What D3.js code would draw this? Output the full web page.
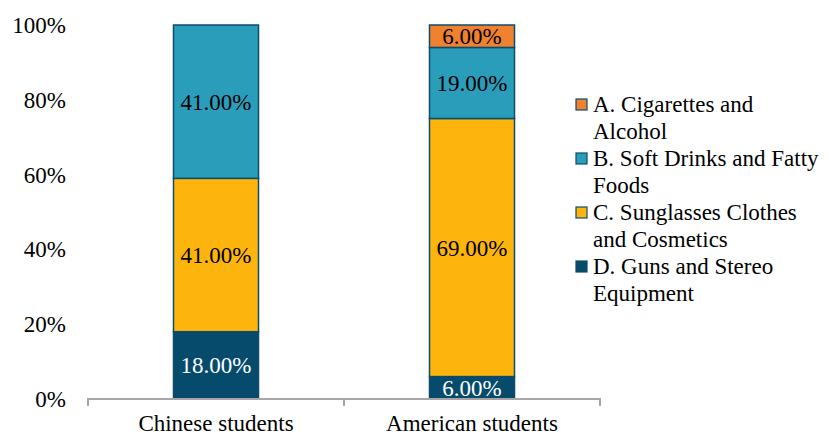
<!DOCTYPE html>
<html>
<head>
<meta charset="utf-8">
<script src="https://cdn.jsdelivr.net/npm/d3@7"></script>
<style>
body { margin: 0; background: #fff; }
</style>
</head>
<body>
<svg width="829" height="437" style="font-family: 'Liberation Serif', 'DejaVu Serif', serif;"></svg>
<script>
var groups = ["Chinese students", "American students"];
var seriesKeys = ["D", "C", "B", "A"];
var chineseVals = [18, 41, 41, 0];
var americanVals = [6, 69, 19, 6];
var yTicks = [0, 20, 40, 60, 80, 100];
var colors = {A: "#F0822F", B: "#2A9DBB", C: "#FDB50D", D: "#064B6C"};
var legendLines = {
    A: ["A. Cigarettes and", "Alcohol"],
    B: ["B. Soft Drinks and Fatty", "Foods"],
    C: ["C. Sunglasses Clothes", "and Cosmetics"],
    D: ["D. Guns and Stereo", "Equipment"]
};

var svg = d3.select("svg");
var fontFam = "'Liberation Serif', 'DejaVu Serif', serif";

var rows = groups.map(function(g, i) {
    var vals = i == 0 ? chineseVals : americanVals;
    var r = {group: g};
    seriesKeys.forEach(function(k, j) { r[k] = vals[j]; });
    return r;
});

var x = d3.scaleBand().domain(groups).range([88, 600]).paddingInner(0).paddingOuter(0);
var y = d3.scaleLinear().domain([0, 100]).range([399, 25]);

var stack = d3.stack().keys(seriesKeys);
var layers = stack(rows);

var barW = 85;

// bars
var layerG = svg.selectAll("g.layer")
    .data(layers)
    .enter()
    .append("g")
    .attr("class", "layer")
    .attr("fill", d => colors[d.key]);

layerG.selectAll("rect")
    .data(d => d.filter(s => s[1] - s[0] > 0))
    .enter()
    .append("rect")
    .attr("x", d => x(d.data.group) + x.bandwidth() / 2 - barW / 2)
    .attr("y", d => y(d[1]))
    .attr("width", barW)
    .attr("height", d => y(d[0]) - y(d[1]))
    .attr("stroke", "#0B4C6B")
    .attr("stroke-width", 1.5);

// labels
layers.forEach(function(layer) {
    svg.append("g").selectAll("text")
        .data(layer.filter(s => s[1] - s[0] > 0))
        .enter()
        .append("text")
        .attr("x", d => x(d.data.group) + x.bandwidth() / 2)
        .attr("y", d => (y(d[0]) + y(d[1])) / 2 + 8)
        .attr("text-anchor", "middle")
        .attr("font-family", fontFam)
        .attr("font-size", "23px")
        .attr("fill", layer.key == "D" ? "#fff" : "#000")
        .text(d => (d[1] - d[0]).toFixed(2) + "%");
});

// y axis labels
svg.append("g").selectAll("text")
    .data(yTicks)
    .enter()
    .append("text")
    .attr("x", 66)
    .attr("y", d => y(d) + 8)
    .attr("text-anchor", "end")
    .attr("font-family", fontFam)
    .attr("font-size", "23px")
    .attr("fill", "#000")
    .text(d => d + "%");

// x axis
var xAxis = svg.append("g")
    .attr("transform", "translate(0,399)")
    .call(d3.axisBottom(x).tickSize(0).tickFormat(""));
xAxis.select(".domain").attr("stroke", "#A6A6A6").attr("stroke-width", 2)
    .attr("d", "M88,7V0H600V7");
xAxis.append("line")
    .attr("x1", 344).attr("x2", 344).attr("y1", 0).attr("y2", 7)
    .attr("stroke", "#A6A6A6").attr("stroke-width", 2);

svg.append("g").selectAll("text")
    .data(groups)
    .enter()
    .append("text")
    .attr("x", d => x(d) + x.bandwidth() / 2)
    .attr("y", 431)
    .attr("text-anchor", "middle")
    .attr("font-family", fontFam)
    .attr("font-size", "23px")
    .attr("fill", "#000")
    .text(d => d);

// legend
var legOrder = ["A", "B", "C", "D"];
var leg = svg.append("g").selectAll("g")
    .data(legOrder)
    .enter()
    .append("g")
    .attr("transform", (d, i) => `translate(576,${112 + i * 54})`);
leg.append("rect")
    .attr("x", 0).attr("y", -13)
    .attr("width", 11).attr("height", 11)
    .attr("fill", d => colors[d])
    .attr("stroke", "#0B4C6B")
    .attr("stroke-width", 1.2);
leg.append("text")
    .attr("x", 17).attr("y", 0)
    .attr("font-family", fontFam)
    .attr("font-size", "23px")
    .attr("fill", "#000")
    .selectAll("tspan")
    .data(d => legendLines[d])
    .enter()
    .append("tspan")
    .attr("x", 17)
    .attr("dy", (d, i) => i == 0 ? 0 : 27)
    .text(d => d);
</script>
</body>
</html>
